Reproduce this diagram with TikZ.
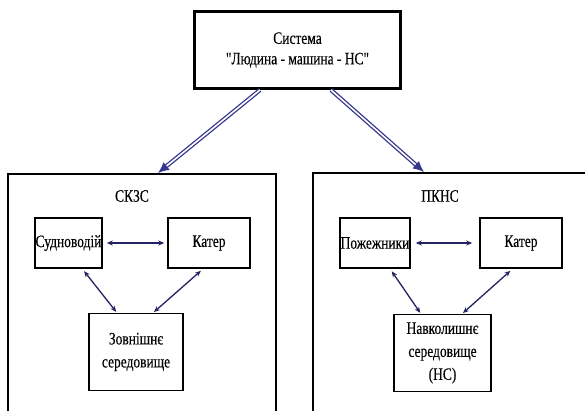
\documentclass[tikz,border=0pt]{standalone}
\usepackage{fontspec}
\setmainfont{Liberation Serif}[FakeStretch=0.77,FakeBold=0.3,Ligatures=TeXOff]
\usetikzlibrary{arrows.meta,calc}
\definecolor{navyarrow}{RGB}{35,35,100}
\definecolor{bluearrow}{RGB}{55,55,140}
\tikzset{
  topbox/.style={draw=black,line width=3pt,minimum width=206pt,minimum height=77pt,inner sep=0pt,align=center,font=\fontsize{17.5}{20.5}\selectfont},
  innerbox/.style={draw=black,line width=1.6pt,inner sep=0pt,align=center,font=\fontsize{17.5}{23}\selectfont},
  bigbox/.style={draw=black,line width=2.6pt},
  linkarrow/.style={draw=navyarrow,line width=1.3pt,{Stealth[length=6pt,width=5pt]}-{Stealth[length=6pt,width=5pt]}},
  mainarrow/.style={draw=bluearrow,double=white,line width=1.3pt,double distance=1.6pt,-{Latex[length=11pt,width=10pt]}},
  lbl/.style={inner sep=0pt,font=\fontsize{17.5}{19}\selectfont}
}
\begin{document}
\begin{tikzpicture}[x=1pt,y=-1pt]
\useasboundingbox (0,0) rectangle (585,410);
\fill[white] (0,0) rectangle (585,410);
% big boxes (cut at the picture's edges)
\draw[bigbox] (8,412) -- (8,174) -- (276,174) -- (276,412);
\draw[bigbox] (313,412) -- (313,173) -- (588,173);
% top box
\node[topbox] (top) at (297.5,50) {Система\\"Людина - машина - НС"};
\coordinate (t1) at (260,90);
\coordinate (t2) at (331,90);
\coordinate (L) at (158,173);
\coordinate (R) at (424,172);
\draw[mainarrow] (t1) -- (L);
\draw[mainarrow] (t2) -- (R);
% left system
\node[lbl] (skzs) at (132,196) {СКЗС};
\node[innerbox,minimum width=67pt,minimum height=50pt] (sud) at (68.5,243) {Судноводій};
\node[innerbox,minimum width=82pt,minimum height=50pt] (katL) at (209,243) {Катер};
\node[innerbox,minimum width=94pt,minimum height=77pt] (zovn) at (136,352) {Зовнішнє\\середовище};
\draw[linkarrow,shorten <=4pt,shorten >=3pt] (sud.east) -- (katL.west);
\draw[linkarrow,shorten <=3pt,shorten >=1pt] ($(sud.south west)!0.7!(sud.south east)$) -- ($(zovn.north west)!0.3!(zovn.north east)$);
\draw[linkarrow,shorten <=3pt,shorten >=1pt] ($(katL.south west)!0.43!(katL.south east)$) -- ($(zovn.north west)!0.68!(zovn.north east)$);
% right system
\node[lbl] (pkns) at (440,196) {ПКНС};
\node[innerbox,minimum width=70pt,minimum height=50pt] (pozh) at (375,243) {Пожежники};
\node[innerbox,minimum width=82pt,minimum height=50pt] (katR) at (521,243) {Катер};
\node[innerbox,minimum width=97pt,minimum height=77pt] (navk) at (442.5,353) {Навколишнє\\середовище\\(НС)};
\draw[linkarrow,shorten <=5pt,shorten >=7pt] (pozh.east) -- (katR.west);
\draw[linkarrow,shorten <=3pt,shorten >=1pt] ($(pozh.south west)!0.71!(pozh.south east)$) -- ($(navk.north west)!0.28!(navk.north east)$);
\draw[linkarrow,shorten <=3pt,shorten >=1pt] ($(katR.south west)!0.4!(katR.south east)$) -- ($(navk.north west)!0.7!(navk.north east)$);
\end{tikzpicture}
\end{document}
